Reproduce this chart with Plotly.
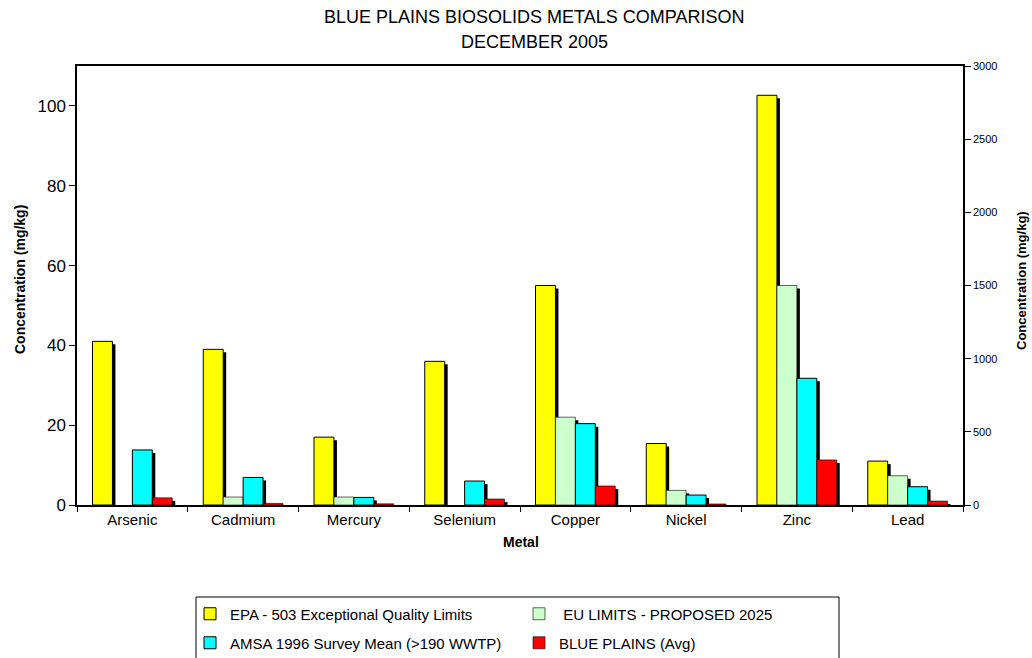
import plotly.graph_objects as go

metals = ["Arsenic", "Cadmium", "Mercury", "Selenium", "Copper", "Nickel", "Zinc", "Lead"]
left_metals = metals[:4]    # plotted on left axis (0-110)
right_metals = metals[4:]   # plotted on right axis (0-3000)

series_names = [
    "EPA - 503 Exceptional Quality Limits",
    " EU LIMITS - PROPOSED 2025",
    "AMSA 1996 Survey Mean (>190 WWTP)",
    "BLUE PLAINS (Avg)",
]
epa_503 = [41, 39, 17, 36, 1500, 420, 2800, 300]
eu_2025 = [None, 2, 2, None, 600, 100, 1500, 200]
amsa_1996 = [13.8, 6.9, 1.9, 6, 556, 68, 866, 125]
blue_plains = [1.8, 0.4, 0.3, 1.5, 130, 7, 308, 27]
series_values = [epa_503, eu_2025, amsa_1996, blue_plains]
colors = ["#FFFF00", "#CCFFCC", "#00FFFF", "#FF0000"]
line_widths = [1, 0.6, 1, 0.6]
legends = ["legend", "legend", "legend2", "legend2"]

left_range = [0, 110]
right_range = [0, 3000]
plot_h_px = 439
bar_w = 0.18
offsets = [-0.36, -0.18, 0.0, 0.18]
shadow_dx = 3 / 111.0

fig = go.Figure()

def shadow_vals(vals, rng):
    d = 3 * (rng[1] - rng[0]) / plot_h_px
    return [None if v is None else max(v - d, 0) for v in vals]

for part, (cats, sl, yax, rng) in enumerate([
    (left_metals, slice(0, 4), "y", left_range),
    (right_metals, slice(4, 8), "y2", right_range),
]):
    # shadows first
    for i, vals in enumerate(series_values):
        fig.add_trace(go.Bar(
            x=cats, y=shadow_vals(vals[sl], rng), yaxis=yax,
            offset=offsets[i] + shadow_dx, width=bar_w,
            marker=dict(color="black", line=dict(width=0)),
            showlegend=False, hoverinfo="skip",
        ))
    for i, vals in enumerate(series_values):
        fig.add_trace(go.Bar(
            x=cats, y=vals[sl], yaxis=yax, name=series_names[i],
            offset=offsets[i], width=bar_w,
            marker=dict(color=colors[i], line=dict(color="black", width=line_widths[i])),
            showlegend=(part == 0), legend=legends[i],
        ))

font_family = "Liberation Sans, Arial, sans-serif"

def px_x(px):
    return (px - 77) / 886

def px_y(py):
    return (505 - py) / 439

fig.update_layout(
    template="none",
    width=1032, height=658,
    margin=dict(l=77, r=69, t=66, b=153, autoexpand=False),
    paper_bgcolor="white", plot_bgcolor="white",
    barmode="overlay",
    font=dict(family=font_family, color="black"),
    xaxis=dict(
        type="category", categoryorder="array", categoryarray=metals,
        range=[-0.5, 7.5], showline=True, linecolor="black", linewidth=1.5,
        mirror=True, ticks="outside", tickson="boundaries", ticklen=5,
        tickcolor="black", tickfont=dict(size=15, color="black"), showgrid=False,
        automargin=False, color="black", zeroline=False,
    ),
    yaxis=dict(
        range=left_range, dtick=20, showline=True, linecolor="black", linewidth=1.5,
        ticks="outside", ticklen=6, tickcolor="black", tickfont=dict(size=17, color="black"),
        showgrid=False, zeroline=False, automargin=False, color="black",
    ),
    yaxis2=dict(
        range=right_range, dtick=500, overlaying="y", side="right",
        showline=True, linecolor="black", linewidth=1.5, color="black",
        ticks="outside", ticklen=6, tickcolor="black", tickfont=dict(size=11, color="black"),
        showgrid=False, zeroline=False, automargin=False,
    ),
    legend=dict(
        orientation="h", x=px_x(190), xanchor="left", y=px_y(614), yanchor="middle",
        entrywidth=284, font=dict(size=15, color="black"), bgcolor="rgba(0,0,0,0)",
        traceorder="normal",
    ),
    legend2=dict(
        orientation="h", x=px_x(190), xanchor="left", y=px_y(643), yanchor="middle",
        entrywidth=284, font=dict(size=15, color="black"), bgcolor="rgba(0,0,0,0)",
        traceorder="normal",
    ),
    shapes=[dict(
        type="rect", xref="paper", yref="paper",
        x0=px_x(196), x1=px_x(839), y0=px_y(597), y1=px_y(680),
        line=dict(color="black", width=1), fillcolor="rgba(0,0,0,0)", layer="above",
    )],
    annotations=[
        dict(text="BLUE PLAINS BIOSOLIDS METALS COMPARISON", xref="paper", yref="paper",
             x=px_x(534), y=px_y(17), showarrow=False,
             font=dict(size=18), xanchor="center", yanchor="middle"),
        dict(text="DECEMBER 2005", xref="paper", yref="paper",
             x=px_x(534), y=px_y(42), showarrow=False,
             font=dict(size=18), xanchor="center", yanchor="middle"),
        dict(text="<b>Metal</b>", xref="paper", yref="paper",
             x=px_x(521), y=px_y(542), showarrow=False,
             font=dict(size=14), xanchor="center", yanchor="middle"),
        dict(text="<b>Concentration (mg/kg)</b>", xref="paper", yref="paper",
             x=px_x(20), y=px_y(280), showarrow=False, textangle=-90,
             font=dict(size=14), xanchor="center", yanchor="middle"),
        dict(text="<b>Concentration (mg/kg)</b>", xref="paper", yref="paper",
             x=px_x(1021), y=px_y(280), showarrow=False, textangle=-90,
             font=dict(size=13), xanchor="center", yanchor="middle"),
    ],
)

fig.write_html(
    "out.html",
    config={"displayModeBar": False},
    post_script="document.body.style.margin='0';document.body.style.overflow='hidden';",
)
